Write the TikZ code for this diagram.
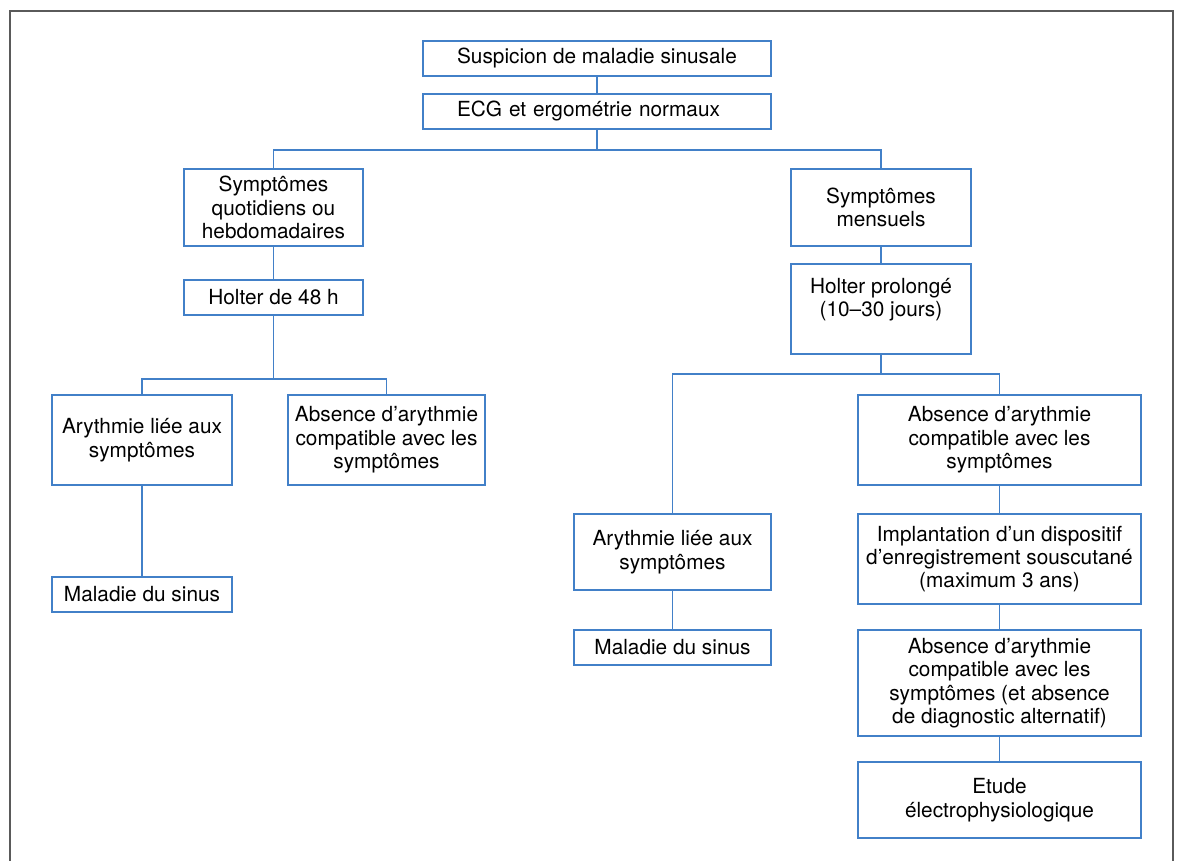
\documentclass[tikz,border=0pt]{standalone}
\usepackage{fontspec}
\setmainfont{TeX Gyre Heros}
\usepackage{tikz}
\usetikzlibrary{positioning}
\definecolor{boxblue}{RGB}{66,128,200}
\definecolor{framegrey}{RGB}{90,90,90}
\tikzset{
  blk/.style={draw=boxblue, line width=0.8pt, inner sep=0pt, align=center,
    font=\fontsize{10.4}{11.7}\selectfont},
  link/.style={draw=boxblue, line width=0.8pt}
}

\begin{document}
\begin{tikzpicture}[x=0.5pt,y=-0.5pt]
   \useasboundingbox (0,0) rectangle (1179,861);
   \draw[framegrey, line width=1pt] (10,861) -- (10,11) -- (1173,11) -- (1173,861);

   \node[blk, minimum width=174pt, minimum height=17.5pt] (susp) at (597,58.5) {Suspicion de maladie sinusale};
   \node[blk, minimum width=174pt, minimum height=17.5pt, text width=140pt, align=left] (ecg) at (597,111.5) {ECG et ergométrie normaux};
   \coordinate (s1) at (597,150);

   \node[blk, minimum width=89.5pt, minimum height=38.5pt] (quot) at (273.5,207.5) {Symptômes\\quotidiens ou\\hebdomadaires};
   \node[blk, minimum width=89.5pt, minimum height=17.5pt] (h48) at (273.5,297.5) {Holter de 48 h};
   \coordinate (s2) at (267,379);
   \node[blk, minimum width=90pt, minimum height=45pt] (aryL) at (142,440) {Arythmie liée aux\\symptômes};
   \node[blk, minimum width=98.5pt, minimum height=45pt] (absL) at (386.5,440) {Absence d’arythmie\\compatible avec les\\symptômes};
   \node[blk, minimum width=90pt, minimum height=17.5pt] (malL) at (142,594.5) {Maladie du sinus};

   \node[blk, minimum width=90pt, minimum height=38.5pt] (mens) at (881,207.5) {Symptômes\\mensuels};
   \node[blk, minimum width=90pt, minimum height=45pt] (hprol) at (881,309) {Holter prolongé\\(10–30 jours)\\\mbox{}};
   \coordinate (s3) at (881,374);
   \node[blk, minimum width=98.5pt, minimum height=38pt] (aryR) at (672.5,552) {Arythmie liée aux\\symptômes};
   \node[blk, minimum width=98.5pt, minimum height=17.5pt] (malR) at (672.5,647.5) {Maladie du sinus};
   \node[blk, minimum width=141.5pt, minimum height=45pt] (absR) at (999.5,440) {Absence d’arythmie\\compatible avec les\\symptômes};
   \node[blk, minimum width=141.5pt, minimum height=45pt] (impl) at (999.5,559) {Implantation d’un dispositif\\d’enregistrement souscutané\\(maximum 3 ans)};
   \node[blk, minimum width=141.5pt, minimum height=53pt] (absR2) at (999.5,683) {Absence d’arythmie\\compatible avec les\\symptômes (et absence\\de diagnostic alternatif)};
   \node[blk, minimum width=141.5pt, minimum height=38pt] (etude) at (999.5,800) {Etude\\électrophysiologique};

   \draw[link] (susp) -- (ecg);
   \draw[link] (ecg) -- (s1);
   \draw[link] (quot.north) |- (s1) -| (mens.north);
   \draw[link] (quot) -- (h48);
   \draw[link] (h48.south) -- (h48.south |- s2);
   \draw[link] (aryL.north) |- (s2) -| (absL.north);
   \draw[link] (aryL) -- (malL);
   \draw[link] (mens) -- (hprol);
   \draw[link] (hprol) -- (s3);
   \draw[link] (aryR.north) |- (s3) -| (absR.north);
   \draw[link] (aryR) -- (malR);
   \draw[link] (absR) -- (impl);
   \draw[link] (impl) -- (absR2);
   \draw[link] (absR2) -- (etude);
\end{tikzpicture}
\end{document}
